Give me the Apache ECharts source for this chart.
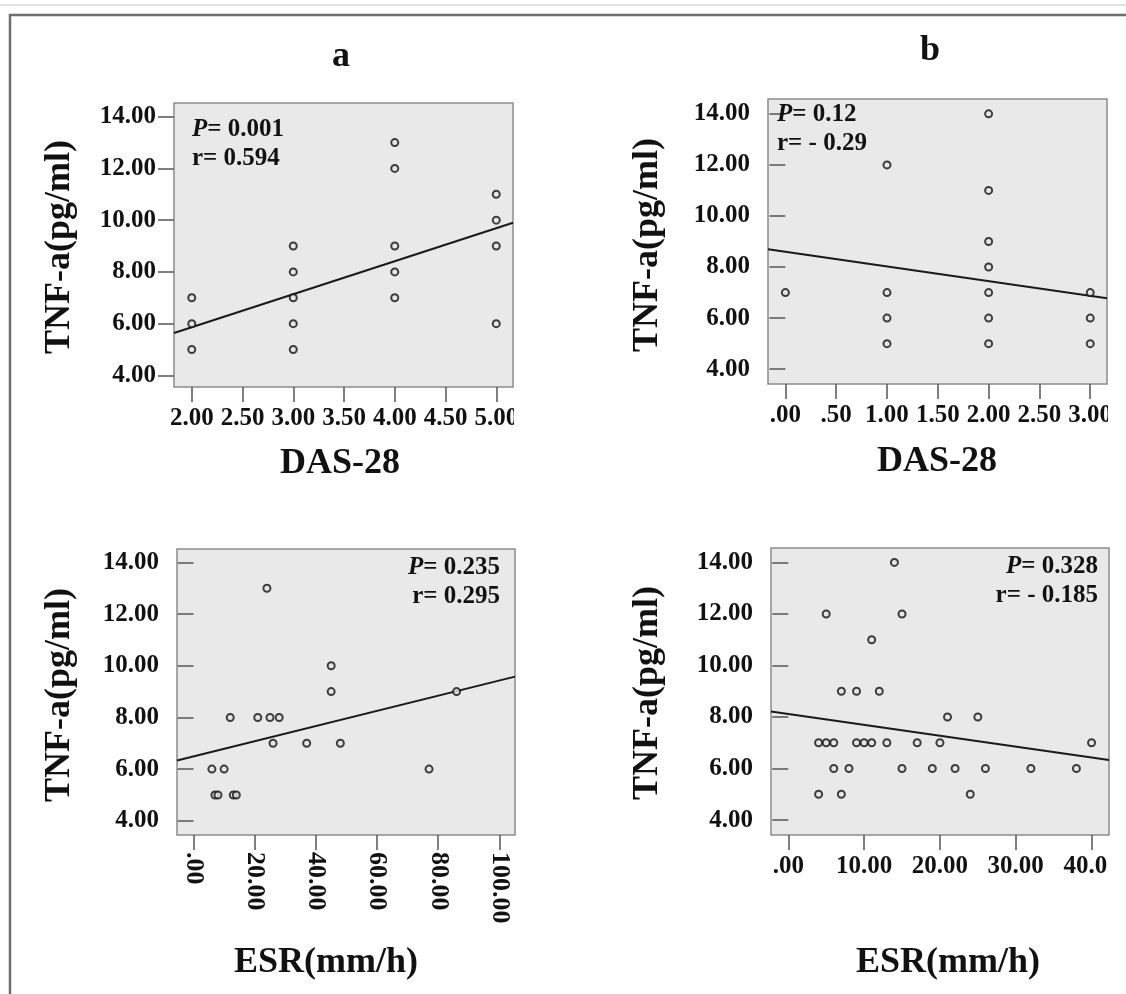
<!DOCTYPE html>
<html>
<head>
<meta charset="utf-8">
<script src="https://cdn.jsdelivr.net/npm/echarts@6/dist/echarts.min.js"></script>
<style>
html,body{margin:0;padding:0;background:#fff;}
#c{width:1126px;height:994px;}
</style>
</head>
<body>
<div id="c"></div>
<script>
// ---------- data ----------
const dasA_x = [2,2,2, 3,3,3,3,3, 4,4,4,4,4, 5,5,5,5];
const dasA_y = [7,6,5, 9,8,7,6,5, 13,12,9,8,7, 11,10,9,6];

const dasB_x = [0, 1,1,1,1, 2,2,2,2,2,2,2, 3,3,3];
const dasB_y = [7, 12,7,6,5, 14,11,9,8,7,6,5, 7,6,5];

const esrA_x = [24,45,45,12,21,25,28,26,37,48,6,10,7,8,13,14,77,86];
const esrA_y = [13,10,9,8,8,8,8,7,7,7,6,6,5,5,5,5,6,9];

const esrB_x = [14,5,15,11,7,9,12,21,25,4,5,6,9,10,11,13,17,20,40,6,8,15,19,22,26,32,38,4,7,24];
const esrB_y = [14,12,12,11,9,9,9,8,8,7,7,7,7,7,7,7,7,7,7,6,6,6,6,6,6,6,6,5,5,5];

// fit line end points (read at the plot edges)
const fitDasA_x = [1.825, 5.165];  const fitDasA_y = [5.64, 9.90];
const fitDasB_x = [-0.171, 3.165]; const fitDasB_y = [8.70, 6.78];
const fitEsrA_x = [-5.4, 105.1];   const fitEsrA_y = [6.33, 9.58];
const fitEsrB_x = [-2.28, 42.3];   const fitEsrB_y = [8.21, 6.33];

// tick values
const yTicks = [4,6,8,10,12,14];
const xTicksDasA = [2,2.5,3,3.5,4,4.5,5];
const xTicksDasB = [0,0.5,1,1.5,2,2.5,3];
const xTicksEsrA = [0,20,40,60,80,100];
const xTicksEsrB = [0,10,20,30,40];

// annotation texts
const statTexts = [
  ['0.001','0.594'],
  ['0.12','- 0.29'],
  ['0.235','0.295'],
  ['0.328','- 0.185']
];
const panelTitles = ['a','b'];
const yName = 'TNF-a(pg/ml)';
const xNames = ['DAS-28','DAS-28','ESR(mm/h)','ESR(mm/h)'];

// ---------- helpers ----------
const FONT = '"Liberation Serif","Times New Roman",serif';
const INK = '#111';
function spss(v){
  let s = Number(v).toFixed(2);
  if (s.startsWith('0.')) s = s.slice(1);
  return s;
}
function zip(a,b){ return a.map((v,i)=>[v,b[i]]); }

const grids = [
  {left:174,   top:103,   width:339, height:284},
  {left:768,   top:99,    width:339, height:285},
  {left:177,   top:549,   width:338, height:286},
  {left:771,   top:548,   width:338, height:287}
];
const xRanges = [[1.825,5.165],[-0.171,3.165],[-5.4,105.1],[-2.28,42.3]];
const yRanges = [[3.55,14.53],[3.42,14.58],[3.45,14.52],[3.42,14.56]];
const xTickSets = [xTicksDasA,xTicksDasB,xTicksEsrA,xTicksEsrB];

const xAxis = [], yAxis = [], series = [];
grids.forEach((g,i)=>{
  const rot = i===2;
  xAxis.push({
    type:'value', gridIndex:i, min:xRanges[i][0], max:xRanges[i][1],
    axisLine:{show:false},
    splitLine:{show:false},
    axisTick:{show:true, customValues:xTickSets[i], length:15, inside:false,
      lineStyle:{color:'#555', width:1.5}},
    axisLabel:{customValues:xTickSets[i], formatter:spss, margin:rot?17:19,
      rotate:rot?-90:0, showMinLabel:true, showMaxLabel:true, hideOverlap:false,
      color:INK, fontFamily:FONT, fontWeight:'bold', fontSize:rot?26:25}
  });
  yAxis.push({
    type:'value', gridIndex:i, min:yRanges[i][0], max:yRanges[i][1],
    axisLine:{show:false},
    splitLine:{show:false},
    axisTick:{show:true, customValues:yTicks, length:16, inside:false,
      lineStyle:{color:'#555', width:1.5}},
    axisLabel:{customValues:yTicks, formatter:spss, margin:18,
      showMinLabel:true, showMaxLabel:true, hideOverlap:false,
      color:INK, fontFamily:FONT, fontWeight:'bold', fontSize:25}
  });
});

const scatterSets = [zip(dasA_x,dasA_y), zip(dasB_x,dasB_y), zip(esrA_x,esrA_y), zip(esrB_x,esrB_y)];
const fitSets = [zip(fitDasA_x,fitDasA_y), zip(fitDasB_x,fitDasB_y), zip(fitEsrA_x,fitEsrA_y), zip(fitEsrB_x,fitEsrB_y)];
scatterSets.forEach((d,i)=>{
  series.push({
    type:'line', xAxisIndex:i, yAxisIndex:i, data:fitSets[i],
    showSymbol:false, symbol:'none', silent:true, animation:false,
    lineStyle:{color:'#1a1a1a', width:2}, z:2
  });
  series.push({
    type:'scatter', xAxisIndex:i, yAxisIndex:i, data:d,
    symbol:'circle', symbolSize:7, animation:false,
    itemStyle:{color:'#e6e6e6', borderColor:'#111', borderWidth:2}, z:3
  });
});

const gridOpts = grids.map(g=>Object.assign({show:true, backgroundColor:'#e9e9e9',
  borderColor:'#8c8c8c', borderWidth:1.5, containLabel:false}, g));

// annotation positions
const statPos = [
  {x:192, y:130, align:'left'},
  {x:777, y:115, align:'left'},
  {x:500, y:568, align:'right'},
  {x:1098, y:567, align:'right'}
];
const graphic = [];
// outer frame lines
graphic.push({type:'line', shape:{x1:0,y1:5,x2:1126,y2:5}, style:{stroke:'#d9d9d9', lineWidth:1.5}, silent:true});
graphic.push({type:'polyline', shape:{points:[[10,994],[10,15],[1126,15]]}, style:{stroke:'#6e6e6e', lineWidth:2.5, fill:null}, silent:true});

statPos.forEach((p,i)=>{
  const tx = statTexts[i];
  graphic.push({type:'text', x:p.x, y:p.y, style:{
    text:'{i|P}{n|= '+tx[0]+'}', align:p.align, verticalAlign:'middle',
    rich:{
      i:{fontFamily:FONT, fontStyle:'italic', fontWeight:'bold', fontSize:25, fill:INK},
      n:{fontFamily:FONT, fontWeight:'bold', fontSize:25, fill:INK}
    }}, z:10});
  graphic.push({type:'text', x:p.x, y:p.y+29, style:{
    text:'r= '+tx[1], align:p.align, verticalAlign:'middle',
    fontFamily:FONT, fontWeight:'bold', fontSize:25, fill:INK}, z:10});
});

// panel titles
[[341,57],[930,51]].forEach((p,i)=>{
  graphic.push({type:'text', x:p[0], y:p[1], style:{text:panelTitles[i], align:'center', verticalAlign:'middle',
    fontFamily:FONT, fontWeight:'bold', fontSize:36, fill:INK}});
});
// x axis names
[[340,464],[937,462],[326,963],[948,963]].forEach((p,i)=>{
  graphic.push({type:'text', x:p[0], y:p[1], style:{text:xNames[i], align:'center', verticalAlign:'middle',
    fontFamily:FONT, fontWeight:'bold', fontSize:36, fill:INK}});
});
// y axis names
[[60,247],[648,245],[60,695],[648,693]].forEach((p,i)=>{
  graphic.push({type:'text', x:p[0], y:p[1], rotation:Math.PI/2, style:{text:yName, align:'center', verticalAlign:'middle',
    fontFamily:FONT, fontWeight:'bold', fontSize:36, fill:INK}});
});
// clipping of the last x labels at the chart edge (as in the source image)
[[514,395],[1108,392],[1108,842]].forEach(p=>{
  graphic.push({type:'rect', shape:{x:p[0], y:p[1]+6, width:30, height:36}, style:{fill:'#fff'}, z:50, silent:true});
});

const chart = echarts.init(document.getElementById('c'), null, {renderer:'canvas'});
chart.setOption({
  animation:false,
  backgroundColor:'#fff',
  grid:gridOpts,
  xAxis:xAxis, yAxis:yAxis, series:series,
  graphic:graphic
});
</script>
</body>
</html>
